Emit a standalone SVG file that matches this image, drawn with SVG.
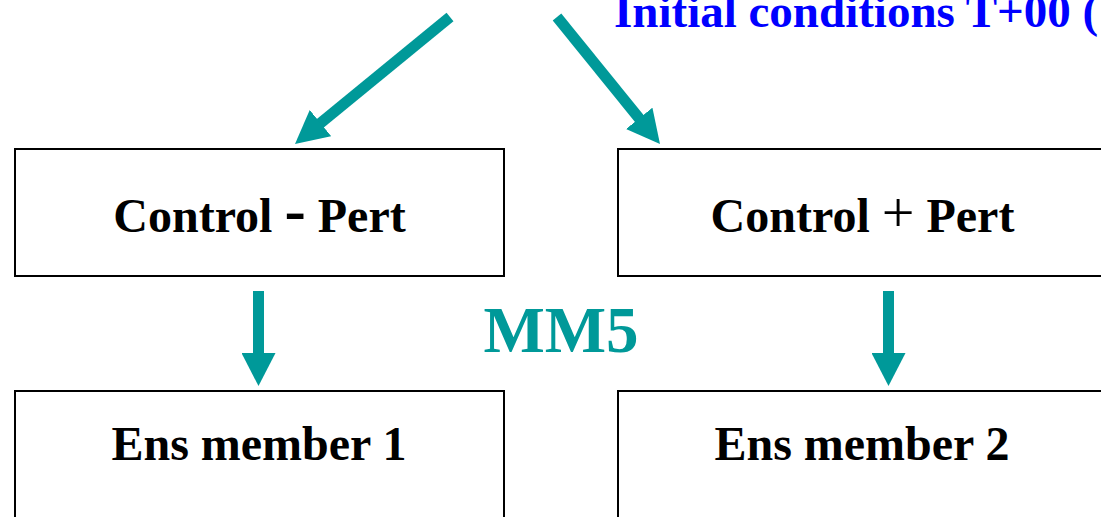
<svg xmlns="http://www.w3.org/2000/svg" width="1101" height="517" viewBox="0 0 1101 517">
  <style>
    .box { fill: #ffffff; stroke: #000000; stroke-width: 2; }
    .label { font-family: "Liberation Serif", "Times New Roman", serif; font-weight: bold; font-size: 48px; fill: #000000; text-anchor: middle; }
    .minus { font-size: 64px; }
    .plus { font-weight: normal; font-size: 58px; }
    .flow { stroke: #009999; stroke-width: 11; fill: none; marker-end: url(#head); }
    .title { font-family: "Liberation Serif", "Times New Roman", serif; font-weight: bold; font-size: 47px; fill: #0000ff; }
    .model { font-family: "Liberation Serif", "Times New Roman", serif; font-weight: bold; font-size: 65px; fill: #009999; text-anchor: middle; }
  </style>
  <defs>
    <marker id="head" markerUnits="userSpaceOnUse" markerWidth="34" markerHeight="34" refX="3" refY="17" orient="auto">
      <path d="M0,0 L33,17 L0,34 z" fill="#009999"/>
    </marker>
  </defs>

  <rect width="1101" height="517" fill="#ffffff"/>

  <text id="init-title" class="title" x="614" y="27">Initial conditions T+00 (</text>

  <g id="connectors">
    <line class="flow" x1="450" y1="17" x2="318.2" y2="125"/>
    <line class="flow" x1="557" y1="17" x2="641.1" y2="120.7"/>
    <line class="flow" x1="258.5" y1="291" x2="258.5" y2="356"/>
    <line class="flow" x1="888.5" y1="291" x2="888.5" y2="356"/>
  </g>

  <text id="model-label" class="model" x="561" y="352">MM5</text>

  <g id="control-minus">
    <rect class="box" x="15" y="149" width="489" height="127"/>
    <text class="label" x="259.5" y="232">Control <tspan class="minus" dy="-1">-</tspan><tspan dy="1"> Pert</tspan></text>
  </g>

  <g id="control-plus">
    <rect class="box" x="618" y="149" width="490" height="127"/>
    <text class="label" x="862.5" y="232">Control <tspan class="plus">+</tspan> Pert</text>
  </g>

  <g id="ens-member-1">
    <rect class="box" x="15" y="391" width="489" height="140"/>
    <text class="label" x="259" y="460">Ens member 1</text>
  </g>

  <g id="ens-member-2">
    <rect class="box" x="618" y="391" width="490" height="140"/>
    <text class="label" x="862" y="460">Ens member 2</text>
  </g>
</svg>
